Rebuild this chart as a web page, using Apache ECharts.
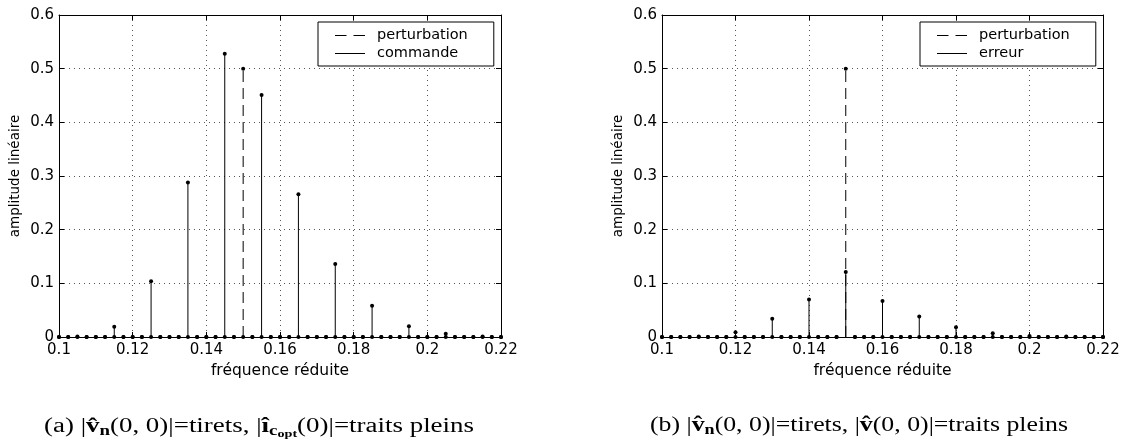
<!DOCTYPE html>
<html>
<head>
<meta charset="utf-8">
<script src="https://cdn.jsdelivr.net/npm/echarts@6/dist/echarts.min.js"></script>
<style>
html, body { margin: 0; padding: 0; background: #fff; }
#chart { width: 1128px; height: 446px; }
</style>
</head>
<body>
<div id="chart"></div>
<script>
// fréquences réduites (pas de 0.0025)
var freq = [
    0.1, 0.1025, 0.105, 0.1075, 0.11, 0.1125, 0.115, 0.1175,
    0.12, 0.1225, 0.125, 0.1275, 0.13, 0.1325, 0.135, 0.1375,
    0.14, 0.1425, 0.145, 0.1475, 0.15, 0.1525, 0.155, 0.1575,
    0.16, 0.1625, 0.165, 0.1675, 0.17, 0.1725, 0.175, 0.1775,
    0.18, 0.1825, 0.185, 0.1875, 0.19, 0.1925, 0.195, 0.1975,
    0.2, 0.2025, 0.205, 0.2075, 0.21, 0.2125, 0.215, 0.2175,
    0.22
]
// perturbation (identique pour (a) et (b))
var perturbation = [
    0, 0, 0, 0, 0, 0, 0, 0,
    0, 0, 0, 0, 0, 0, 0, 0,
    0, 0, 0, 0, 0.5, 0, 0, 0,
    0, 0, 0, 0, 0, 0, 0, 0,
    0, 0, 0, 0, 0, 0, 0, 0,
    0, 0, 0, 0, 0, 0, 0, 0,
    0
]
// (a) commande
var commande = [
    0, 0, 0.001, 0, 0, 0, 0.019, 0,
    0, 0, 0.104, 0, 0, 0, 0.288, 0,
    0, 0, 0.528, 0, 0, 0, 0.451, 0,
    0, 0, 0.266, 0, 0, 0, 0.136, 0,
    0, 0, 0.058, 0, 0, 0, 0.020, 0,
    0, 0, 0.006, 0, 0, 0, 0.001, 0,
    0
]
// (b) erreur
var erreur = [
    0, 0, 0, 0, 0.001, 0, 0, 0,
    0.009, 0, 0, 0, 0.034, 0, 0, 0,
    0.070, 0, 0, 0, 0.121, 0, 0, 0,
    0.067, 0, 0, 0, 0.038, 0, 0, 0,
    0.018, 0, 0, 0, 0.007, 0, 0, 0,
    0.002, 0, 0, 0, 0.001, 0, 0, 0,
    0
]
var xTicks = [0.1, 0.22, 0.02]
var yTicks = [0, 0.6, 0.1]

var SANS = 'DejaVu Sans'
var SERIF = 'Liberation Serif'
var DASH = [11, 6]
var ICON_DASH = 'path://M0,0h11.5v1h-11.5zM18.5,0h11.5v1h-11.5z'
var ICON_SOLID = 'path://M0,0h30v1h-30z'

function pairs(ys) {
    return freq.map(function (f, i) { return [f, ys[i]] })
}

// tige + point, via les échelles de l'axe
function stem(dash) {
    return function (params, api) {
        var x = api.value(0)
        var y = api.value(1)
        var p0 = api.coord([x, 0])
        var p1 = api.coord([x, y])
        return {
            type: 'group',
            children: [{
                type: 'line',
                shape: { x1: p0[0], y1: p0[1], x2: p1[0], y2: p1[1] },
                style: { stroke: '#000', lineWidth: 1, lineDash: dash }
            }, {
                type: 'circle',
                shape: { cx: p1[0], cy: p1[1], r: 2 },
                style: { fill: '#000' }
            }]
        }
    }
}

function axesFor(idx) {
    var lab = { fontFamily: SANS, fontSize: 15, color: '#000' }
    var tick = { show: true, inside: true, length: 5, lineStyle: { color: '#000' } }
    var line = { show: true, onZero: false, lineStyle: { color: '#000', width: 1 } }
    var grid = { show: true, lineStyle: { color: '#555', type: [1, 4], width: 1 } }
    return {
        x: [{
            gridIndex: idx, type: 'value', position: 'bottom',
            min: xTicks[0], max: xTicks[1], interval: xTicks[2],
            axisLine: line, axisTick: tick, splitLine: grid,
            axisLabel: Object.assign({ margin: 6, showMinLabel: true, showMaxLabel: true }, lab),
            name: 'fréquence réduite', nameLocation: 'middle', nameGap: 25,
            nameTextStyle: { fontFamily: SANS, fontSize: 15.5, color: '#000' }
        }, {
            gridIndex: idx, type: 'value', position: 'top',
            min: xTicks[0], max: xTicks[1], interval: xTicks[2],
            axisLine: line, axisTick: tick, splitLine: { show: false },
            axisLabel: { show: false }
        }],
        y: [{
            gridIndex: idx, type: 'value', position: 'left',
            min: yTicks[0], max: yTicks[1], interval: yTicks[2],
            axisLine: line, axisTick: tick, splitLine: grid,
            axisLabel: Object.assign({ margin: 5 }, lab),
            name: 'amplitude linéaire', nameLocation: 'middle', nameGap: 37,
            nameTextStyle: { fontFamily: SANS, fontSize: 13.5, color: '#000' }
        }, {
            gridIndex: idx, type: 'value', position: 'right',
            min: yTicks[0], max: yTicks[1], interval: yTicks[2],
            axisLine: line, axisTick: tick, splitLine: { show: false },
            axisLabel: { show: false }
        }]
    }
}

var a0 = axesFor(0)
var a1 = axesFor(1)
a1.x.forEach(function (a) { a.gridIndex = 1 })
a1.y.forEach(function (a) { a.gridIndex = 1 })

function legendFor(left, names) {
    return {
        left: left, top: 22, orient: 'vertical',
        itemWidth: 30, itemHeight: 14, itemGap: 3,
        symbolKeepAspect: true,
        padding: [6, 26, 5, 17],
        borderColor: '#000', borderWidth: 1, borderRadius: 0,
        backgroundColor: '#fff',
        selectedMode: false,
        data: [
            { name: names[0], icon: ICON_DASH, itemStyle: { color: '#000' } },
            { name: names[1], icon: ICON_SOLID, itemStyle: { color: '#000' } }
        ],
        textStyle: { fontFamily: SANS, fontSize: 14.5, color: '#000', padding: [0, 0, 0, 7] }
    }
}

function legendSeries(name, xi, yi) {
    return {
        name: name, type: 'line', data: [], symbol: 'none',
        xAxisIndex: xi, yAxisIndex: yi,
        itemStyle: { color: '#000' },
        lineStyle: { color: '#000', width: 1 }
    }
}

// légendes (a) et (b) : morceaux de texte riche
var RICH = {
    r: { fontFamily: SERIF, fontSize: 20, color: '#000' },
    b: { fontFamily: SERIF, fontSize: 20, fontWeight: 'bold', color: '#000' },
    s: { fontFamily: SERIF, fontSize: 14, fontWeight: 'bold', color: '#000', padding: [9, 0, 0, 0] },
    ss: { fontFamily: SERIF, fontSize: 10.5, fontWeight: 'bold', color: '#000', padding: [15, 0, 0, 0] }
}
var capA = [['r', '(a) |'], ['b', 'v\u0302'], ['s', 'n'], ['r', '(0, 0)|=tirets, |'],
    ['b', '\u00ee'], ['s', 'c'], ['ss', 'opt'], ['r', '(0)|=traits pleins']]
var capB = [['r', '(b) |'], ['b', 'v\u0302'], ['s', 'n'], ['r', '(0, 0)|=tirets, |'],
    ['b', 'v\u0302'], ['r', '(0, 0)|=traits pleins']]

var ctx = document.createElement('canvas').getContext('2d')
function richWidth(tokens) {
    var w = 0
    tokens.forEach(function (t) {
        var st = RICH[t[0]]
        ctx.font = (st.fontWeight || 'normal') + ' ' + st.fontSize + 'px "' + SERIF + '"'
        w += ctx.measureText(t[1]).width
    })
    return w
}

function caption(x0, x1, tokens) {
    var text = tokens.map(function (t) { return '{' + t[0] + '|' + t[1] + '}' }).join('')
    return {
        type: 'text', x: x0, y: 414, scaleX: (x1 - x0) / richWidth(tokens), silent: true,
        style: { text: text, fill: '#000', font: '20px "' + SERIF + '"', rich: RICH }
    }
}

var chart = echarts.init(document.getElementById('chart'))
var option = {
    animation: false,
    backgroundColor: '#fff',
    grid: [
        { left: 59, right: 1128 - 501, top: 15, bottom: 446 - 337 },
        { left: 662, right: 1128 - 1103, top: 15, bottom: 446 - 337 }
    ],
    xAxis: a0.x.concat(a1.x),
    yAxis: a0.y.concat(a1.y),
    legend: [
        legendFor(318, ['perturbation', 'commande']),
        legendFor(920, ['perturbation', 'erreur'])
    ],
    series: [
        { type: 'custom', xAxisIndex: 0, yAxisIndex: 0, renderItem: stem(DASH), data: pairs(perturbation), z: 3 },
        { type: 'custom', xAxisIndex: 0, yAxisIndex: 0, renderItem: stem(null), data: pairs(commande), z: 4 },
        { type: 'custom', xAxisIndex: 2, yAxisIndex: 2, renderItem: stem(DASH), data: pairs(perturbation), z: 3 },
        { type: 'custom', xAxisIndex: 2, yAxisIndex: 2, renderItem: stem(null), data: pairs(erreur), z: 4 },
        legendSeries('perturbation', 0, 0),
        legendSeries('commande', 0, 0),
        legendSeries('erreur', 2, 2)
    ],
    graphic: [
        caption(44, 474, capA),
        caption(650, 1068, capB)
    ]
}
chart.setOption(option)
</script>
</body>
</html>
